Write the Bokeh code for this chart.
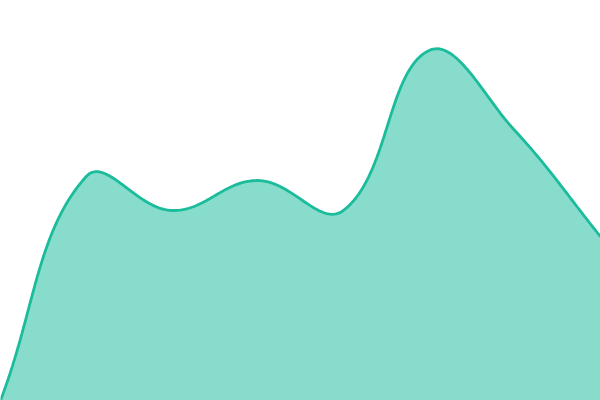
import numpy as np
from bokeh.plotting import figure
from bokeh.embed import file_html
from bokeh.resources import INLINE

# data
labels = ["1", "2", "3", "4", "5", "6", "7", "8"]
values = [0, 56, 47.5, 55, 47.5, 87.5, 67.5, 41]

W, H = 600, 400
YMAX = 100
n = len(values)

# Chart.js-style spline smoothing (tension 0.4), computed in pixel space
px = np.array([i * W / (n - 1) for i in range(n)], dtype=float)
py = np.array([v * H / YMAX for v in values], dtype=float)
t = 0.4
cp_prev = []
cp_next = []
for i in range(n):
    p0 = (px[max(i - 1, 0)], py[max(i - 1, 0)])
    p1 = (px[i], py[i])
    p2 = (px[min(i + 1, n - 1)], py[min(i + 1, n - 1)])
    d01 = np.hypot(p1[0] - p0[0], p1[1] - p0[1])
    d12 = np.hypot(p2[0] - p1[0], p2[1] - p1[1])
    s = d01 + d12 if d01 + d12 else 1
    fa = t * d01 / s
    fb = t * d12 / s
    cp_prev.append((p1[0] - fa * (p2[0] - p0[0]), p1[1] - fa * (p2[1] - p0[1])))
    cp_next.append((p1[0] + fb * (p2[0] - p0[0]), p1[1] + fb * (p2[1] - p0[1])))

xs, ys = [], []
tt = np.linspace(0, 1, 40)
for i in range(n - 1):
    P0 = np.array([px[i], py[i]])
    P1 = np.array(cp_next[i])
    P2 = np.array(cp_prev[i + 1])
    P3 = np.array([px[i + 1], py[i + 1]])
    for u in (tt if i == 0 else tt[1:]):
        b = ((1 - u) ** 3) * P0 + 3 * ((1 - u) ** 2) * u * P1 + 3 * (1 - u) * u * u * P2 + u ** 3 * P3
        xs.append(b[0] * (n - 1) / W)
        ys.append(b[1] * YMAX / H)

p = figure(width=W, height=H, x_range=(0, n - 1), y_range=(0, YMAX),
           output_backend="svg", toolbar_location=None, min_border=0)
p.axis.visible = False
p.grid.visible = False
p.outline_line_color = None
p.background_fill_color = "white"
p.border_fill_color = "white"

p.patch(xs + [n - 1, 0], ys + [0, 0], fill_color="#1abc9c", fill_alpha=0.52, line_color=None)
p.line(xs, ys, line_color="#1abc9c", line_width=2.8)

open("out.html", "w").write(file_html(p, INLINE))
